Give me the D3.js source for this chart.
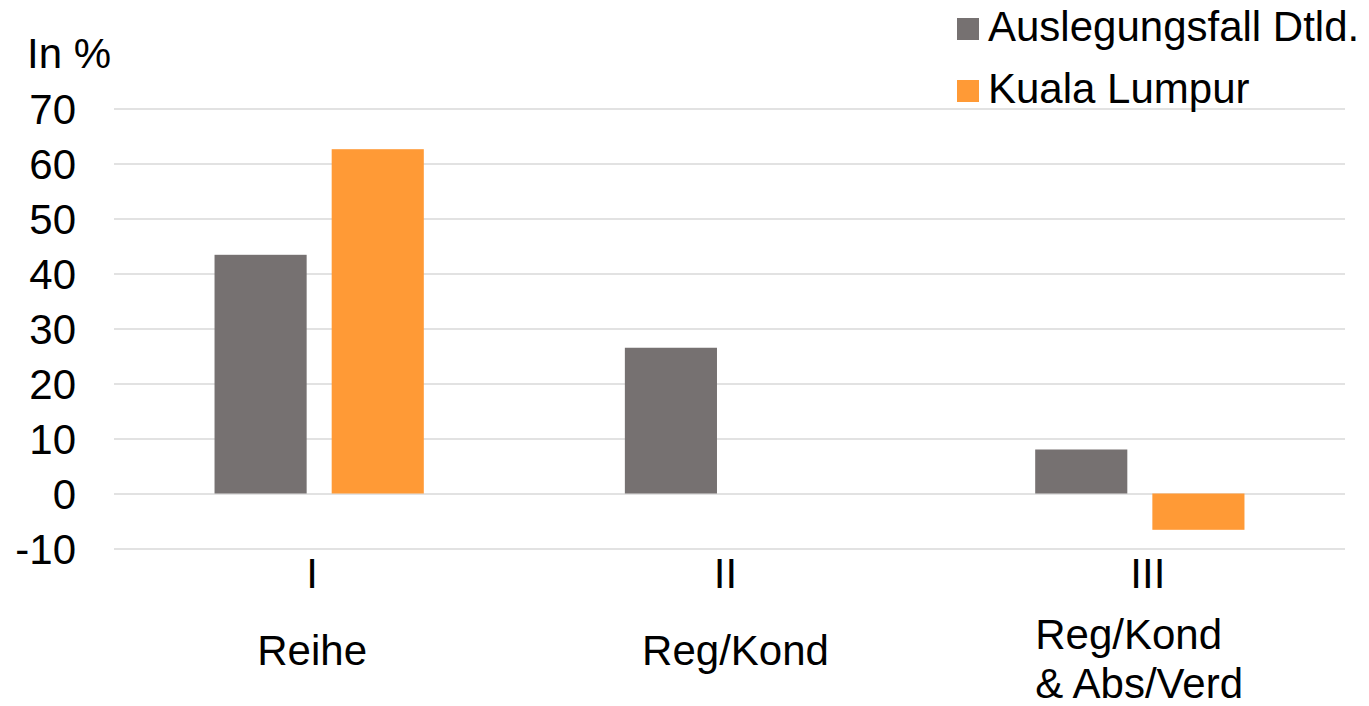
<!DOCTYPE html>
<html>
<head>
<meta charset="utf-8">
<script src="https://cdn.jsdelivr.net/npm/d3@7"></script>
<style>
  body { margin: 0; background: #fff; }
  svg { display: block; font-family: "Liberation Sans", Arial, sans-serif; }
</style>
</head>
<body>
<svg id="chart" width="1369" height="706"></svg>
<script>
'use strict';

// data
const categories = ["I", "II", "III"];
const categoryNames = [["Reihe"], ["Reg/Kond"], ["Reg/Kond", "& Abs/Verd"]];
const seriesNames = ["Auslegungsfall Dtld.", "Kuala Lumpur"];
const seriesColors = ["#767171", "#ff9a36"];
const auslegung = [43.4, 26.5, 8.0];
const kualaLumpur = [62.6, null, -6.6];
const yTicks = [-10, 0, 10, 20, 30, 40, 50, 60, 70];

const seriesValues = [auslegung, kualaLumpur];

const svg = d3.select("#chart");
const margin = { left: 114, right: 24, top: 108.5, bottom: 157.5 };
const width = 1369, height = 706;

const x0 = d3.scaleBand()
  .domain(categories)
  .range([margin.left, width - margin.right])
  .paddingInner(0.49)
  .paddingOuter(0.245);

const x1 = d3.scaleBand()
  .domain(seriesNames)
  .range([0, x0.bandwidth()])
  .paddingInner(0.2137)
  .paddingOuter(0);

const y = d3.scaleLinear()
  .domain([-10, 70])
  .range([height - margin.bottom, margin.top]);

// gridlines
const grid = svg.append("g")
  .attr("transform", "translate(" + margin.left + ",0)")
  .call(d3.axisLeft(y).tickValues(yTicks).tickSize(-(width - margin.left - margin.right)).tickFormat(""));
grid.select(".domain").remove();
grid.selectAll("line").attr("stroke", "#d9d9d9").attr("stroke-width", 1.5);

// y tick labels
svg.append("g").selectAll("text")
  .data(yTicks)
  .enter().append("text")
    .attr("x", 76)
    .attr("y", d => y(d))
    .attr("dy", "0.36em")
    .attr("text-anchor", "end")
    .attr("font-size", 42)
    .attr("fill", "#000")
    .text(d => d);

svg.append("text")
  .attr("x", 27)
  .attr("y", 68)
  .attr("font-size", 42)
  .text("In %");

// bars
const rows = [];
categories.forEach((c, i) => {
  seriesNames.forEach((s, j) => {
    const v = seriesValues[j][i];
    if (v !== null) rows.push({ cat: c, series: s, value: v, color: seriesColors[j] });
  });
});

svg.append("g").selectAll("rect")
  .data(rows)
  .enter().append("rect")
    .attr("x", d => x0(d.cat) + x1(d.series))
    .attr("width", x1.bandwidth())
    .attr("y", d => y(Math.max(0, d.value)))
    .attr("height", d => Math.abs(y(d.value) - y(0)))
    .attr("fill", d => d.color);

// category labels (small nudges as in the original)
const numNudge = [-7, -4, 8];
const nameNudge = [-7, 6, 0];
const xLab = svg.append("g");
categories.forEach((c, i) => {
  const cx = x0(c) + x0.bandwidth() / 2;
  xLab.append("text")
    .attr("x", cx + numNudge[i])
    .attr("y", 588)
    .attr("text-anchor", "middle")
    .attr("font-size", 42)
    .text(c);
  const lines = categoryNames[i];
  if (lines.length === 1) {
    xLab.append("text")
      .attr("x", cx + nameNudge[i])
      .attr("y", 665)
      .attr("text-anchor", "middle")
      .attr("font-size", 42)
      .text(lines[0]);
  } else {
    const t = xLab.append("text")
      .attr("x", x0(c))
      .attr("y", 649)
      .attr("font-size", 42);
    lines.forEach((l, k) => {
      t.append("tspan").attr("x", x0(c)).attr("dy", k === 0 ? 0 : 49).text(l);
    });
  }
});

// legend
const legend = svg.append("g").attr("transform", "translate(957,18)");
seriesNames.forEach((s, i) => {
  const g = legend.append("g").attr("transform", "translate(0," + (i * 62) + ")");
  g.append("rect").attr("width", 22).attr("height", 22).attr("fill", seriesColors[i]);
  g.append("text").attr("x", 31).attr("y", 23).attr("font-size", 42).text(s);
});
</script>
</body>
</html>
